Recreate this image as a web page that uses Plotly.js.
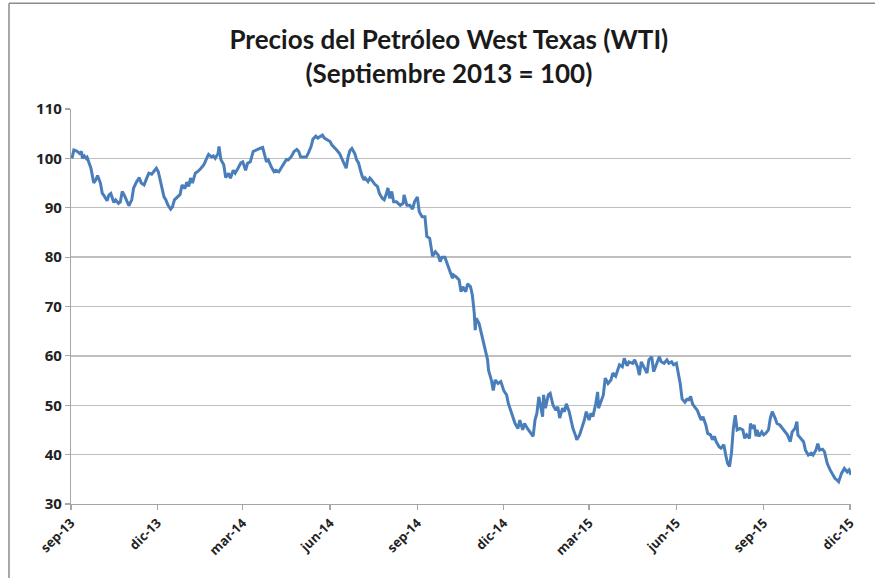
<!DOCTYPE html>
<html>
<head>
<meta charset="utf-8">
<script src="https://cdn.plot.ly/plotly-3.0.1.min.js"></script>
<style>
html,body{margin:0;padding:0;background:#fff;}
#chart{width:875px;height:578px;}
</style>
</head>
<body>
<div id="chart"></div>
<script>
var dates = [
"2013-09-02","2013-09-04","2013-09-07","2013-09-10","2013-09-12","2013-09-13","2013-09-15","2013-09-17","2013-09-18","2013-09-20",
"2013-09-22","2013-09-25","2013-09-27","2013-09-29","2013-10-02","2013-10-04","2013-10-06","2013-10-09","2013-10-11","2013-10-13",
"2013-10-16","2013-10-18","2013-10-21","2013-10-23","2013-10-25","2013-10-28","2013-10-30","2013-11-01","2013-11-04","2013-11-06",
"2013-11-09","2013-11-12","2013-11-14","2013-11-17","2013-11-19","2013-11-22","2013-11-25","2013-11-27","2013-11-30","2013-12-02",
"2013-12-05","2013-12-08","2013-12-10","2013-12-12","2013-12-15","2013-12-17","2013-12-19","2013-12-22","2013-12-25","2013-12-27",
"2013-12-30","2014-01-01","2014-01-03","2014-01-05","2014-01-07","2014-01-10","2014-01-13","2014-01-16","2014-01-19","2014-01-22",
"2014-01-24","2014-01-27","2014-01-29","2014-01-31","2014-02-03","2014-02-04","2014-02-06","2014-02-09","2014-02-11","2014-02-14",
"2014-02-16","2014-02-19","2014-02-21","2014-02-24","2014-02-27","2014-03-01","2014-03-04","2014-03-06","2014-03-09","2014-03-12",
"2014-03-15","2014-03-19","2014-03-22","2014-03-24","2014-03-26","2014-03-28","2014-03-31","2014-04-03","2014-04-05","2014-04-08",
"2014-04-10","2014-04-13","2014-04-16","2014-04-18","2014-04-21","2014-04-24","2014-04-27","2014-04-29","2014-05-01","2014-05-04",
"2014-05-07","2014-05-09","2014-05-12","2014-05-14","2014-05-17","2014-05-19","2014-05-21","2014-05-24","2014-05-26","2014-05-29",
"2014-06-01","2014-06-03","2014-06-06","2014-06-08","2014-06-11","2014-06-14","2014-06-16","2014-06-18","2014-06-20","2014-06-22",
"2014-06-24","2014-06-27","2014-06-29","2014-07-01","2014-07-03","2014-07-05","2014-07-07","2014-07-08","2014-07-11","2014-07-13",
"2014-07-15","2014-07-18","2014-07-21","2014-07-23","2014-07-26","2014-07-28","2014-07-30","2014-08-01","2014-08-03","2014-08-05",
"2014-08-07","2014-08-10","2014-08-14","2014-08-17","2014-08-18","2014-08-21","2014-08-24","2014-08-27","2014-08-29","2014-09-01",
"2014-09-03","2014-09-06","2014-09-09","2014-09-11","2014-09-14","2014-09-17","2014-09-20","2014-09-23","2014-09-25","2014-09-27",
"2014-09-30","2014-10-03","2014-10-05","2014-10-08","2014-10-09","2014-10-12","2014-10-15","2014-10-17","2014-10-19","2014-10-22",
"2014-10-24","2014-10-27","2014-10-29","2014-10-31","2014-11-01","2014-11-02","2014-11-05","2014-11-07","2014-11-10","2014-11-12",
"2014-11-14","2014-11-15","2014-11-18","2014-11-20","2014-11-22","2014-11-25","2014-11-28","2014-12-01","2014-12-04","2014-12-06",
"2014-12-09","2014-12-11","2014-12-13","2014-12-16","2014-12-18","2014-12-21","2014-12-23","2014-12-26","2014-12-29","2015-01-01",
"2015-01-03","2015-01-05","2015-01-07","2015-01-09","2015-01-11","2015-01-12","2015-01-14","2015-01-17","2015-01-19","2015-01-22",
"2015-01-25","2015-01-27","2015-01-29","2015-02-01","2015-02-03","2015-02-05","2015-02-08","2015-02-10","2015-02-12","2015-02-15",
"2015-02-16","2015-02-19","2015-02-22","2015-02-24","2015-02-26","2015-03-01","2015-03-03","2015-03-05","2015-03-08","2015-03-10",
"2015-03-11","2015-03-14","2015-03-16","2015-03-18","2015-03-21","2015-03-24","2015-03-26","2015-03-29","2015-03-31","2015-04-02",
"2015-04-05","2015-04-07","2015-04-10","2015-04-12","2015-04-16","2015-04-18","2015-04-21","2015-04-23","2015-04-25","2015-04-28",
"2015-05-01","2015-05-03","2015-05-06","2015-05-08","2015-05-11","2015-05-14","2015-05-16","2015-05-19","2015-05-22","2015-05-24",
"2015-05-27","2015-05-29","2015-06-01","2015-06-03","2015-06-05","2015-06-07","2015-06-10","2015-06-12","2015-06-14","2015-06-16",
"2015-06-18","2015-06-20","2015-06-23","2015-06-25","2015-06-27","2015-06-29","2015-07-02","2015-07-04","2015-07-07","2015-07-09",
"2015-07-11","2015-07-13","2015-07-16","2015-07-18","2015-07-21","2015-07-23","2015-07-25","2015-07-27","2015-07-29","2015-07-31",
"2015-08-02","2015-08-04","2015-08-07","2015-08-10","2015-08-12","2015-08-14","2015-08-17","2015-08-18","2015-08-20","2015-08-22",
"2015-08-24","2015-08-25","2015-08-27","2015-08-30","2015-09-01","2015-09-03","2015-09-06","2015-09-08","2015-09-10","2015-09-13",
"2015-09-15","2015-09-18","2015-09-21","2015-09-23","2015-09-26","2015-09-29","2015-10-01","2015-10-04","2015-10-06","2015-10-07",
"2015-10-10","2015-10-13","2015-10-15","2015-10-18","2015-10-21","2015-10-23","2015-10-26","2015-10-28","2015-10-30","2015-11-02",
"2015-11-04","2015-11-07","2015-11-10","2015-11-12","2015-11-15","2015-11-17","2015-11-19","2015-11-22","2015-11-25","2015-11-28",
"2015-11-30","2015-12-02"
];
var values = [
100.0,101.7,101.5,101.0,101.4,100.0,100.5,100.0,100.2,99.0,
98.0,95.0,95.6,96.5,95.0,92.9,92.4,91.4,92.6,92.9,
91.1,91.6,90.9,91.2,93.3,92.2,91.2,90.4,91.6,94.0,
95.2,96.1,95.0,94.6,95.6,97.0,96.8,97.3,98.0,97.3,
95.0,92.2,91.6,90.6,89.7,90.2,91.6,92.2,92.7,94.6,
93.9,95.2,94.3,96.0,95.0,97.0,97.4,98.0,98.7,100.0,
100.8,100.3,100.5,100.0,101.0,102.4,99.7,98.7,96.1,97.0,
96.0,97.6,97.0,98.0,99.1,99.3,97.6,99.0,99.3,101.4,
101.7,102.0,102.2,100.7,99.3,99.7,98.3,97.3,97.6,97.3,
98.0,99.0,99.8,99.7,100.3,101.4,101.8,101.4,100.3,100.3,
100.3,101.0,102.4,103.9,104.5,104.1,104.4,104.7,104.1,103.7,
103.4,102.7,102.2,101.7,101.0,99.7,99.0,98.0,100.3,101.6,
102.0,101.0,99.7,99.1,97.6,96.3,95.6,96.0,95.3,96.0,
95.6,94.8,94.3,92.9,91.9,91.6,92.6,94.0,91.9,93.3,
91.2,91.2,90.5,90.9,92.6,90.5,90.5,89.7,91.2,92.2,
89.2,88.2,88.2,84.2,83.8,80.2,81.1,80.4,79.1,80.0,
80.0,78.4,77.0,75.7,76.4,76.0,75.4,73.0,74.0,73.0,
74.6,74.0,72.3,68.6,65.2,67.6,66.6,64.9,62.6,61.2,
59.2,57.1,55.1,53.0,55.1,54.4,54.8,53.0,52.1,50.3,
48.4,47.4,46.3,45.3,47.0,45.0,46.3,45.3,44.6,43.7,
47.0,48.4,51.7,49.7,47.7,52.1,49.4,52.1,52.4,50.0,
49.0,49.7,47.4,49.4,48.7,50.3,48.7,47.0,45.3,43.7,
43.0,44.0,45.7,47.0,48.7,47.0,48.4,47.7,50.3,52.7,
49.4,51.1,52.1,55.5,54.4,55.1,56.5,55.9,57.1,58.2,
57.8,59.5,58.0,58.8,58.5,59.2,57.8,56.1,58.8,57.8,
56.5,59.2,59.8,56.8,58.2,59.8,58.8,58.5,59.2,58.5,
58.8,58.2,58.5,56.5,54.4,51.3,50.6,51.2,51.1,51.8,
50.3,49.7,49.0,48.0,47.0,47.7,46.0,44.3,44.0,43.0,
43.7,42.6,41.6,41.3,42.0,39.9,38.2,37.6,40.3,45.3,
48.0,45.0,45.3,45.0,43.3,44.0,43.3,46.3,45.3,46.0,
43.7,45.0,43.7,44.6,44.0,44.3,45.0,47.4,48.7,47.4,
46.3,46.0,45.3,44.6,44.0,42.6,44.6,45.3,46.7,44.0,
43.3,42.6,40.9,39.9,40.3,39.9,40.9,42.2,40.9,41.1,
40.6,38.2,36.9,36.2,35.2,34.9,34.5,36.2,37.2,36.5,
36.9,35.9
];
var tickDates = ["2013-09-01","2013-12-01","2014-03-01","2014-06-01","2014-09-01","2014-12-01","2015-03-01","2015-06-01","2015-09-01","2015-12-01"];
var tickLabels = ["sep-13","dic-13","mar-14","jun-14","sep-14","dic-14","mar-15","jun-15","sep-15","dic-15"];
var yTicks = [30,40,50,60,70,80,90,100,110];

var trace = {
  x: dates, y: values, type: "scatter", mode: "lines",
  line: {color: "#4a7ebb", width: 3},
  hoverinfo: "x+y"
};
var layout = {
  width: 875, height: 578,
  margin: {l: 71, r: 24, t: 109, b: 74},
  paper_bgcolor: "#ffffff", plot_bgcolor: "#ffffff",
  showlegend: false,
  title: {
    text: "<b>Precios del Petróleo West Texas (WTI)</b><br><b>(Septiembre 2013 = 100)</b>",
    font: {family: "Lato, 'Open Sans', sans-serif", size: 26, color: "#1a1a1a"},
    x: 0.513, xanchor: "center", y: 0.915, yanchor: "top"
  },
  xaxis: {
    type: "date",
    range: ["2013-09-01", "2015-12-02"],
    tickmode: "array", tickvals: tickDates, ticktext: tickLabels,
    tickangle: -45,
    tickfont: {family: "'Open Sans', sans-serif", size: 13, color: "#222", weight: "bold"},
    showgrid: false, zeroline: false,
    showline: true, linecolor: "#a6a6a6", linewidth: 1.2,
    ticks: "outside", ticklen: 5, tickcolor: "#a6a6a6", tickwidth: 1.2
  },
  yaxis: {
    range: [30, 110],
    tickmode: "array", tickvals: yTicks,
    ticksuffix: "\u00a0",
    tickfont: {family: "'Open Sans', sans-serif", size: 15, color: "#222", weight: "bold"},
    showgrid: true, gridcolor: "#bfbfbf", gridwidth: 1.3,
    zeroline: false,
    showline: true, linecolor: "#a6a6a6", linewidth: 1.2,
    ticks: "outside", ticklen: 5, tickcolor: "#a6a6a6", tickwidth: 1.2
  },
  shapes: [
    {type: "line", xref: "paper", yref: "paper", x0: -0.0795, x1: 1.05, y0: 1.268, y1: 1.268, line: {color: "#8c8c8c", width: 1.5}},
    {type: "line", xref: "paper", yref: "paper", x0: -0.0795, x1: -0.0795, y0: -0.2, y1: 1.268, line: {color: "#8c8c8c", width: 1.5}}
  ]
};
Plotly.newPlot("chart", [trace], layout, {displayModeBar: false, staticPlot: true});
</script>
</body>
</html>
